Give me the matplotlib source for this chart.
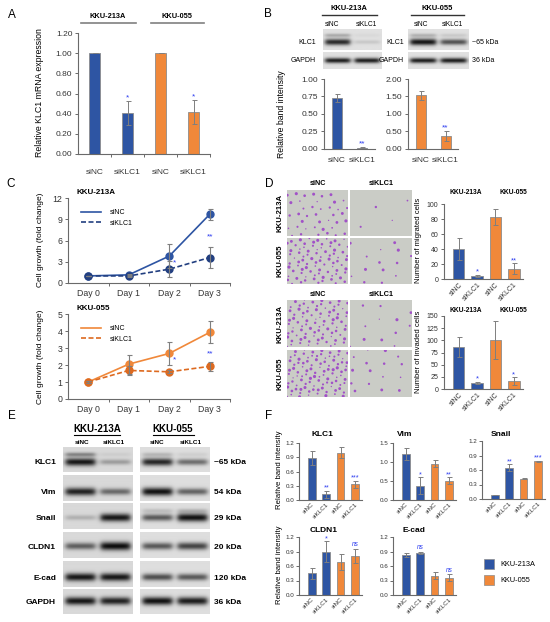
import numpy as np
import matplotlib.pyplot as plt
from matplotlib.lines import Line2D
from matplotlib.patches import Rectangle
from matplotlib.ticker import FormatStrFormatter

plt.rcParams['font.family'] = ['Liberation Sans', 'DejaVu Sans']

W, H = 550, 622
BLUE = '#2E55A3'
NAVY = '#223F80'
ORANGE = '#F0883A'
DORANGE = '#DD6A20'
EDGE = '#8C8C8C'
ERR = '#7F7F7F'
AXC = '#6A6A6A'
STAR = '#2B3BF0'
PURPLE = '#9A3CC8'
FIELD = '#CACCC6'

# ---------------- data ----------------
groups = ['siNC', 'siKLC1', 'siNC', 'siKLC1']
pair = ['siNC', 'siKLC1']
cells = ['KKU-213A', 'KKU-055']
bar_colors = [BLUE, BLUE, ORANGE, ORANGE]

# A: KLC1 mRNA
mrna = [1.00, 0.41, 1.00, 0.42]
mrna_err = [0.0, 0.12, 0.0, 0.12]
mrna_sig = ['', '*', '', '*']

# B: KLC1 band intensity
b213 = [0.73, 0.02]
b213_err = [0.06, 0.01]
b055 = [1.53, 0.38]
b055_err = [0.12, 0.14]
b_sig = ['', '**']

# C: cell growth
days = ['Day 0', 'Day 1', 'Day 2', 'Day 3']
g213_nc = [1.0, 1.15, 3.8, 9.7]
g213_nc_err = [0.05, 0.1, 1.65, 0.8]
g213_si = [1.0, 1.0, 1.95, 3.6]
g213_si_err = [0.05, 0.1, 1.15, 1.55]
g213_star = ['', '', '*', '**']
g213_star_y = [0, 0, 2.9, 6.5]
g055_nc = [1.0, 2.05, 2.68, 3.92]
g055_nc_err = [0.05, 0.55, 0.7, 0.65]
g055_si = [1.0, 1.68, 1.6, 1.92]
g055_si_err = [0.05, 0.28, 0.08, 0.25]
g055_star = ['', '', '*', '**']
g055_star_y = [0, 0, 2.3, 2.65]

# D: migration / invasion
migrated = [40, 4.5, 83, 14]
migrated_err = [15, 1.5, 11, 7]
migrated_sig = ['', '*', '', '**']
invaded = [86, 12, 100, 16]
invaded_err = [20, 2.5, 39, 8]
invaded_sig = ['', '*', '', '*']

# F: band intensities
f_klc1 = [0.88, 0.12, 1.0, 0.33]
f_klc1_err = [0.15, 0.08, 0.11, 0.08]
f_klc1_sig = ['', '**', '', '***']
f_vim = [1.2, 0.38, 0.96, 0.51]
f_vim_err = [0.16, 0.22, 0.09, 0.09]
f_vim_sig = ['', '*', '', '**']
f_snail = [0.08, 0.65, 0.42, 0.78]
f_snail_err = [0.0, 0.07, 0.005, 0.01]
f_snail_sig = ['', '**', '', '***']
f_cldn1 = [0.45, 0.9, 0.68, 0.81]
f_cldn1_err = [0.11, 0.21, 0.17, 0.14]
f_cldn1_sig = ['', '*', '', 'ns']
f_ecad = [0.83, 0.87, 0.4, 0.36]
f_ecad_err = [0.04, 0.03, 0.07, 0.07]
f_ecad_sig = ['', 'ns', '', 'ns']

# blot band strengths [KKU-213A lanes, KKU-055 lanes]
b_klc1 = [[0.9, 0.12], [1.0, 0.7]]
b_klc1_up = [[0.35, 0.05], [0.3, 0.15]]
b_gapdh = [[0.95, 0.95], [0.95, 0.95]]
e_proteins = ['KLC1', 'Vim', 'Snail', 'CLDN1', 'E-cad', 'GAPDH']
e_kda = ['~65 kDa', '54 kDa', '29 kDa', '20 kDa', '120 kDa', '36 kDa']
e_main = [[[0.95, 0.3], [0.9, 0.55]],
          [[0.9, 0.55], [1.0, 0.6]],
          [[0.2, 0.95], [0.65, 1.0]],
          [[0.6, 1.0], [0.65, 0.75]],
          [[0.95, 0.95], [0.7, 0.65]],
          [[0.95, 0.9], [1.0, 0.95]]]
e_upper = [[[0.55, 0.08], [0.25, 0.1]], None, [[0.0, 0.0], [0.2, 0.25]], None, None, None]
e_band_pos = [0.6, 0.64, 0.56, 0.56, 0.62, 0.5]

fig = plt.figure(figsize=(W / 100, H / 100), dpi=100)


def add_ax(x0, y0, x1, y1):
    return fig.add_axes([x0 / W, 1 - y1 / H, (x1 - x0) / W, (y1 - y0) / H])


def ftext(x, y, s, **kw):
    kw.setdefault('ha', 'center')
    kw.setdefault('va', 'center')
    fig.text(x / W, 1 - y / H, s, **kw)


def hline(x0, x1, y, **kw):
    fig.add_artist(Line2D([x0 / W, x1 / W], [1 - y / H] * 2, **kw))


def style(ax, fs, tl=2.5):
    for s in ['top', 'right']:
        ax.spines[s].set_visible(False)
    for s in ['left', 'bottom']:
        ax.spines[s].set_color(AXC)
        ax.spines[s].set_linewidth(0.8)
    ax.tick_params(axis='both', labelsize=fs, length=tl, width=0.7,
                   color=AXC, pad=1.5, labelcolor='#333333')


def bars(ax, vals, err, sig, colors, ylim, step, fmt, width, xlim, fs,
         labels=None, rot=True, pad=1.5, star_fs=5.5, tl=2.5):
    x = np.arange(len(vals))
    ax.bar(x, vals, width, color=colors, edgecolor=EDGE, linewidth=0.6, zorder=2)
    ax.errorbar(x, vals, yerr=err, fmt='none', ecolor=ERR, elinewidth=0.7,
                capsize=1.8, capthick=0.7, zorder=3)
    for xi, v, e, s in zip(x, vals, err, sig):
        if s:
            ns = s == 'ns'
            ax.annotate(s, (xi, v + e), xytext=(0, 0.5 if ns else -0.5),
                        textcoords='offset points', ha='center', va='bottom',
                        color=STAR, fontsize=star_fs - (0.5 if ns else 0),
                        style='italic' if ns else 'normal')
    style(ax, fs, tl)
    ax.set_xlim(xlim)
    ax.set_ylim(ylim)
    ax.set_yticks(np.arange(ylim[0], ylim[1] + step / 2, step))
    ax.yaxis.set_major_formatter(FormatStrFormatter(fmt))
    ax.set_xticks(x)
    if labels is None:
        ax.set_xticklabels([])
    elif rot:
        ax.set_xticklabels(labels, rotation=45, ha='right', rotation_mode='anchor')
    else:
        ax.set_xticklabels(labels)
    ax.tick_params(axis='x', length=0, pad=pad)
    return ax


def blot(x0, y0, x1, y1, main, upper=None, yc=0.6, bg=0.86):
    ax = add_ax(x0, y0, x1, y1)
    ny, nx = 40, 140
    yy, xx = np.mgrid[0:ny, 0:nx]
    yy = yy + 0.5
    xx = xx + 0.5
    img = np.full((ny, nx), bg)
    lane = nx / len(main)
    for i, m in enumerate(main):
        cx = (i + 0.5) * lane
        hprof = 1 / (1 + np.exp((np.abs(xx - cx) - 0.42 * lane) / 3.0))
        vprof = np.exp(-0.5 * ((yy - yc * ny) / (ny * (0.06 + 0.05 * m))) ** 2)
        img -= 0.8 * m * hprof * vprof
        if upper is not None:
            up = np.exp(-0.5 * ((yy - 0.3 * ny) / (ny * 0.06)) ** 2)
            img -= 0.6 * upper[i] * hprof * up
    ax.imshow(np.clip(img, 0, 1), cmap='gray', vmin=0, vmax=1, aspect='auto',
              interpolation='bilinear', extent=(0, 1, 0, 1))
    ax.axis('off')


def field(x0, y0, x1, y1, count, offset):
    ax = add_ax(x0, y0, x1, y1)
    ax.set_facecolor(FIELD)
    k = np.arange(1, int(round(count)) + 1) + offset
    xs = (0.5 + 0.7548776662466927 * k) % 1
    ys = (0.5 + 0.5698402909980532 * k) % 1
    ss = 0.8 + 4.5 * ((0.3 + 0.6180339887 * k * 1.37) % 1)
    ax.scatter(xs, ys, s=ss, color=PURPLE, alpha=0.85, linewidths=0)
    ax.set_xlim(0, 1)
    ax.set_ylim(0, 1)
    ax.set_xticks([])
    ax.set_yticks([])
    for s in ax.spines.values():
        s.set_visible(False)


# panel letters
for letter, (px, py) in zip('ABCDEF', [(12, 15), (268, 14), (11, 184),
                                       (269, 184), (12, 416), (269, 416)]):
    ftext(px, py, letter, fontsize=8.5)

# ---------------- A ----------------
axA = add_ax(78, 33, 210, 154)
bars(axA, mrna, mrna_err, mrna_sig, bar_colors, (0, 1.2), 0.2, '%.2f', 0.34,
     (-0.5, 3.5), 6, labels=groups, rot=False, pad=10.5, star_fs=6)
axA.set_xticks([0.5, 1.5, 2.5, 3.5], minor=True)
axA.tick_params(axis='x', which='minor', length=2.5, width=0.7, color=AXC)
ftext(39, 93, 'Relative KLC1 mRNA expression', rotation=90, fontsize=6.3)
ftext(108, 17, cells[0], fontsize=5.3, fontweight='bold')
ftext(177, 17, cells[1], fontsize=5.3, fontweight='bold')
hline(81, 136, 23, color='#808080', lw=1.2)
hline(151, 204, 23, color='#808080', lw=1.2)

# ---------------- B ----------------
ftext(349, 9, cells[0], fontsize=5.4, fontweight='bold')
ftext(437, 9, cells[1], fontsize=5.4, fontweight='bold')
hline(322, 377, 15, color='#333333', lw=1.0)
hline(411, 464, 15, color='#333333', lw=1.0)
for cx, lab in zip([332, 366, 421, 452], pair * 2):
    ftext(cx, 24, lab, fontsize=4.8)
blot(323, 29, 382, 50, b_klc1[0], b_klc1_up[0], yc=0.62, bg=0.88)
blot(323, 52, 382, 69, b_gapdh[0], yc=0.5, bg=0.88)
blot(408, 29, 469, 50, b_klc1[1], b_klc1_up[1], yc=0.62, bg=0.88)
blot(408, 52, 469, 69, b_gapdh[1], yc=0.5, bg=0.88)
ftext(316, 42, 'KLC1', fontsize=5, ha='right')
ftext(316, 61, 'GAPDH', fontsize=5, ha='right')
ftext(404, 42, 'KLC1', fontsize=5, ha='right')
ftext(404, 61, 'GAPDH', fontsize=5, ha='right')
ftext(472, 42, '~65 kDa', fontsize=5, ha='left')
ftext(472, 61, '36 kDa', fontsize=5, ha='left')

axB1 = add_ax(324, 79, 375, 149)
bars(axB1, b213, b213_err, b_sig, [BLUE, BLUE], (0, 1.0), 0.25, '%.2f', 0.4,
     (-0.5, 1.5), 6, labels=pair, rot=False, pad=5.5, star_fs=6)
axB2 = add_ax(408, 79, 458, 149)
bars(axB2, b055, b055_err, b_sig, [ORANGE, ORANGE], (0, 2.0), 0.5, '%.2f', 0.4,
     (-0.5, 1.5), 6, labels=pair, rot=False, pad=5.5, star_fs=6)
ftext(281, 114, 'Relative band intensity', rotation=90, fontsize=6.2)

# ---------------- C ----------------
def growth(ax, nc, nc_err, si, si_err, stars, star_y, c_nc, c_si, ymax, step, title):
    x = np.arange(len(days))
    ax.errorbar(x, nc, yerr=nc_err, fmt='none', ecolor=ERR, elinewidth=0.8,
                capsize=1.8, capthick=0.8, zorder=4)
    ax.errorbar(x, si, yerr=si_err, fmt='none', ecolor=ERR, elinewidth=0.8,
                capsize=1.8, capthick=0.8, zorder=4)
    ax.plot(x, nc, '-o', color=c_nc, lw=1.2, ms=5, zorder=3, label='siNC')
    ax.plot(x, si, 'o', color=c_si, ls=(0, (3, 1.5)), lw=1.2, ms=5, zorder=3,
            label='siKLC1')
    for xi, s, sy in zip(x, stars, star_y):
        if s:
            ax.text(xi + (0.12 if s == '*' else 0), sy, s, color=STAR,
                    fontsize=6, ha='center', va='center')
    style(ax, 6.3)
    ax.set_xlim(-0.5, 3.5)
    ax.set_ylim(0, ymax)
    ax.set_yticks(np.arange(0, ymax + step / 2, step))
    ax.set_xticks(x)
    ax.set_xticklabels(days)
    ax.tick_params(axis='x', length=0, pad=4.5)
    ax.set_xticks([0.5, 1.5, 2.5, 3.5], minor=True)
    ax.tick_params(axis='x', which='minor', length=2.5, width=0.7, color=AXC)
    handles = [Line2D([], [], color=c_nc, lw=1.2),
               Line2D([], [], color=c_si, lw=1.2, ls=(0, (3, 1.5)))]
    ax.legend(handles, ['siNC', 'siKLC1'], loc='upper left',
              bbox_to_anchor=(0.08, 0.87), frameon=False, fontsize=5,
              handlelength=2.9, handletextpad=1.3, labelspacing=0.55,
              borderpad=0, borderaxespad=0)
    ax.text(0.05, 1.06, title, transform=ax.transAxes, fontsize=5.8,
            fontweight='bold', ha='left', va='center')


axC1 = add_ax(68, 198, 230, 283)
growth(axC1, g213_nc, g213_nc_err, g213_si, g213_si_err, g213_star, g213_star_y,
       BLUE, NAVY, 12, 3, cells[0])
axC2 = add_ax(68, 314, 230, 399)
growth(axC2, g055_nc, g055_nc_err, g055_si, g055_si_err, g055_star, g055_star_y,
       ORANGE, DORANGE, 5, 1, cells[1])
ftext(40, 240, 'Cell growth (fold change)', rotation=90, fontsize=6)
ftext(40, 357, 'Cell growth (fold change)', rotation=90, fontsize=6)

# ---------------- D ----------------
for (ytop, rows, counts) in [(184, [(190, 236), (238, 284)], migrated),
                             (295, [(300, 347), (350, 397)], invaded)]:
    ftext(318, ytop, pair[0], fontsize=5.2, fontweight='bold')
    ftext(381, ytop, pair[1], fontsize=5.2, fontweight='bold')
    for r, (y0, y1) in enumerate(rows):
        field(287, y0, 348, y1, counts[2 * r], 7 * r + ytop)
        field(350, y0, 412, y1, counts[2 * r + 1], 11 * r + ytop + 3)
        ftext(280, (y0 + y1) / 2, cells[r], rotation=90, fontsize=5.6,
              fontweight='bold')

axD1 = add_ax(444, 204, 523, 279)
bars(axD1, migrated, migrated_err, migrated_sig, bar_colors, (0, 100), 20, '%d',
     0.62, (-0.8, 3.5), 5.0, labels=groups)
axD2 = add_ax(444, 316, 523, 389)
bars(axD2, invaded, invaded_err, invaded_sig, bar_colors, (0, 150), 25, '%d',
     0.62, (-0.8, 3.5), 5.0, labels=groups)
for yt in [192, 310]:
    ftext(466, yt, cells[0], fontsize=4.8, fontweight='bold')
    ftext(513, yt, cells[1], fontsize=4.8, fontweight='bold')
ftext(419, 240, 'Number of migrated cells', rotation=90, fontsize=5.5)
ftext(419, 352, 'Number of invaded cells', rotation=90, fontsize=5.5)

# ---------------- E ----------------
ftext(97, 429, cells[0], fontsize=7, fontweight='bold')
ftext(173, 429, cells[1], fontsize=7, fontweight='bold')
hline(74, 120, 434.5, color='black', lw=0.8)
hline(153, 194, 434.5, color='black', lw=0.8)
for cx, lab in zip([82, 114, 157, 191], pair * 2):
    ftext(cx, 442, lab, fontsize=4.6, fontweight='bold')
e_rows = [(447, 472), (475, 501), (503, 529), (532, 558), (561, 587), (589, 614)]
for (y0, y1), prot, kda, main, upper, pos in zip(e_rows, e_proteins, e_kda,
                                                 e_main, e_upper, e_band_pos):
    blot(63, y0, 133, y1, main[0], None if upper is None else upper[0], yc=pos,
         bg=0.85)
    blot(140, y0, 210, y1, main[1], None if upper is None else upper[1], yc=pos,
         bg=0.87)
    yl = y0 + pos * (y1 - y0) + 1
    ftext(56, yl, prot, fontsize=6, fontweight='bold', ha='right')
    ftext(214, yl, kda, fontsize=6, fontweight='bold', ha='left')

# ---------------- F ----------------
f_panels = [(f_klc1, f_klc1_err, f_klc1_sig, 'KLC1', (299, 443, 362, 500), 1.2, 0.3, (322, 435)),
            (f_vim, f_vim_err, f_vim_sig, 'Vim', (393, 443, 456, 500), 1.5, 0.5, (405, 435)),
            (f_snail, f_snail_err, f_snail_sig, 'Snail', (482, 441, 545, 499), 1.2, 0.3, (501, 434)),
            (f_cldn1, f_cldn1_err, f_cldn1_sig, 'CLDN1', (299, 537, 362, 595), 1.2, 0.3, (324, 531)),
            (f_ecad, f_ecad_err, f_ecad_sig, 'E-cad', (393, 537, 456, 595), 1.2, 0.3, (414, 531))]
for vals, err, sig, name, box, ymax, step, tpos in f_panels:
    ax = add_ax(*box)
    bars(ax, vals, err, sig, bar_colors, (0, ymax), step, '%.1f', 0.52,
         (-0.9, 3.5), 4.5, labels=groups, star_fs=5.2, tl=2)
    ftext(tpos[0], tpos[1], name, fontsize=6, fontweight='bold')
ftext(280, 470, 'Relative band intensity', rotation=90, fontsize=5.6)
ftext(280, 565, 'Relative band intensity', rotation=90, fontsize=5.6)
for (yy, col, lab) in [(564, BLUE, cells[0]), (580, ORANGE, cells[1])]:
    fig.add_artist(Rectangle(((489 - 5) / W, 1 - (yy + 5) / H), 10 / W, 10 / H,
                             facecolor=col, edgecolor=EDGE, lw=0.5))
    ftext(500, yy, lab, fontsize=5.3, ha='left')

fig.savefig('out.png', dpi=100)
